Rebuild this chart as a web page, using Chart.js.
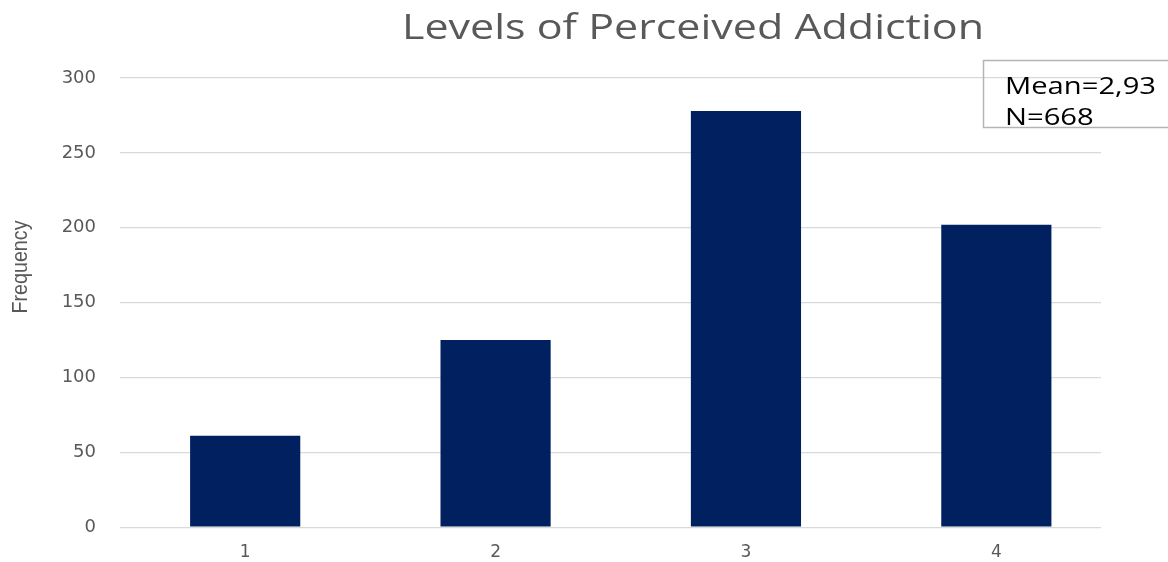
<!DOCTYPE html>
<html>
<head>
<meta charset="utf-8">
<title>Levels of Perceived Addiction</title>
<script src="https://cdn.jsdelivr.net/npm/chart.js@4.4.1/dist/chart.umd.min.js"></script>
<style>
  html, body { margin: 0; padding: 0; background: #ffffff; }
  #wrap { width: 1168px; height: 562px; }
</style>
</head>
<body>
<div id="wrap"><canvas id="chart" width="1168" height="562"></canvas></div>
<script>
// Response levels and how many respondents picked each one
const categories = ['1', '2', '3', '4'];
const frequencies = [61, 125, 278, 202];
const yTicks = [0, 50, 100, 150, 200, 250, 300];

const chartTitle = 'Levels of Perceived Addiction';
const yAxisTitle = 'Frequency';
const summaryLines = ['Mean=2,93', 'N=668'];

const TEXT_GREY = '#595959';
const BAR_BLUE = '#002060';

// Title, axis caption and summary box, drawn with a slight horizontal stretch
const headerPlugin = {
  id: 'header',
  afterDraw(chart) {
    const ctx = chart.ctx;
    ctx.save();

    // title
    ctx.font = '34px "Open Sans"';
    ctx.fillStyle = TEXT_GREY;
    ctx.textAlign = 'left';
    ctx.textBaseline = 'alphabetic';
    const tw = ctx.measureText(chartTitle).width;
    ctx.save();
    ctx.translate(402, 39);
    ctx.scale(582 / tw, 1);
    ctx.fillText(chartTitle, 0, 0);
    ctx.restore();

    // y axis caption
    ctx.font = '17px "Liberation Sans"';
    ctx.textAlign = 'center';
    ctx.textBaseline = 'middle';
    const fw = ctx.measureText(yAxisTitle).width;
    ctx.save();
    ctx.translate(21, 267);
    ctx.rotate(-Math.PI / 2);
    ctx.scale(93 / fw, 1.25);
    ctx.fillText(yAxisTitle, 0, 0);
    ctx.restore();

    // summary box
    ctx.strokeStyle = '#b4b4b4';
    ctx.lineWidth = 1.5;
    ctx.strokeRect(983.5, 60.5, 200, 67);

    ctx.font = '22px "Open Sans"';
    ctx.fillStyle = '#000000';
    ctx.textAlign = 'left';
    ctx.textBaseline = 'alphabetic';
    const mw = ctx.measureText(summaryLines[0]).width;
    const sx = 151 / mw;
    summaryLines.forEach((line, i) => {
      ctx.save();
      ctx.translate(1005, 94 + i * 31);
      ctx.scale(sx, 1.05);
      ctx.fillText(line, 0, 0);
      ctx.restore();
    });

    ctx.restore();
  }
};

new Chart(document.getElementById('chart'), {
  type: 'bar',
  data: {
    datasets: [{
      label: 'Frequency',
      data: categories.map((c, i) => ({ x: Number(c), y: frequencies[i] })),
      backgroundColor: BAR_BLUE,
      borderWidth: 0,
      categoryPercentage: 0.44,
      barPercentage: 1
    }]
  },
  options: {
    responsive: false,
    animation: false,
    layout: { padding: { top: 78, right: 67, bottom: 0, left: 0 } },
    plugins: {
      legend: { display: false },
      title: { display: false },
      tooltip: { enabled: false }
    },
    scales: {
      x: {
        type: 'linear',
        min: 0.5,
        max: 4.418,
        offset: false,
        grace: 0,
        grid: { display: false, drawTicks: false, offset: false },
        border: { display: false },
        afterBuildTicks(scale) {
          scale.ticks = categories.map(c => ({ value: Number(c) }));
        },
        afterFit(scale) { scale.height = 34; },
        ticks: {
          padding: 15,
          color: TEXT_GREY,
          font: { family: '"DejaVu Sans"', size: 17 },
          callback: (v) => String(v)
        }
      },
      y: {
        min: 0,
        max: 300,
        afterBuildTicks(scale) {
          scale.ticks = yTicks.map(v => ({ value: v }));
        },
        afterFit(scale) { scale.width = 120; },
        grid: { color: '#d9d9d9', lineWidth: 1.2, drawTicks: false },
        border: { display: false },
        ticks: {
          padding: 24,
          color: TEXT_GREY,
          font: { family: '"DejaVu Sans"', size: 18 }
        }
      }
    }
  },
  plugins: [headerPlugin]
});
</script>
</body>
</html>
